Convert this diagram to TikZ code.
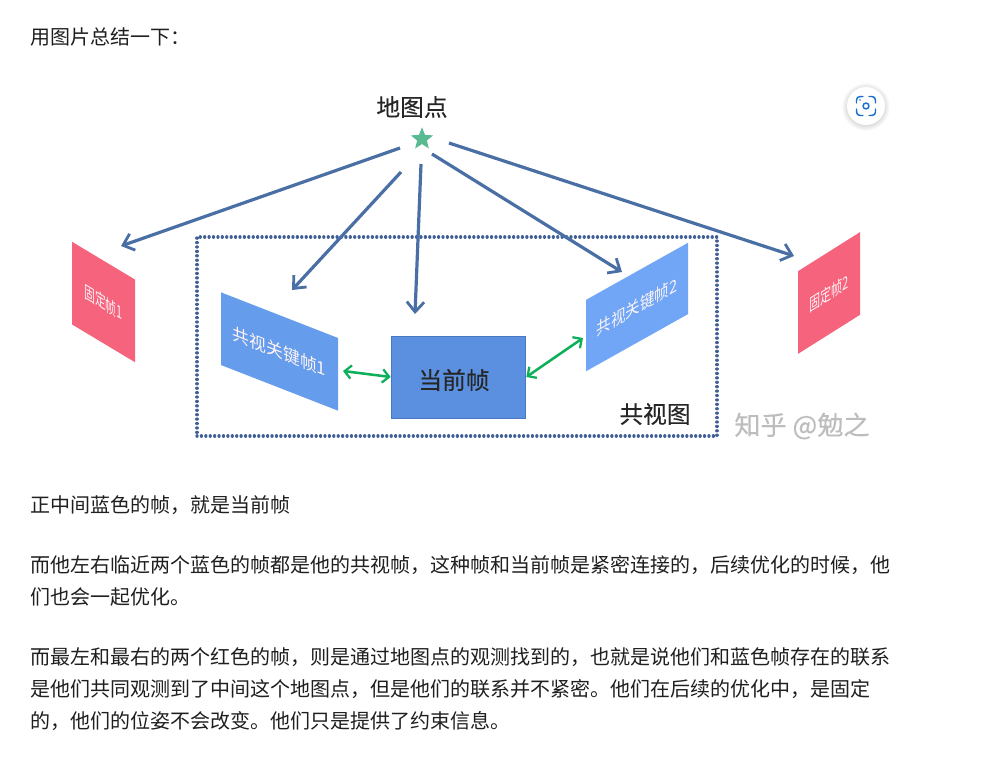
\documentclass[tikz,border=0pt]{standalone}
\usepackage{fontspec}
\setmainfont{Noto Sans CJK SC}
\newfontfamily\heavycjk[FakeBold=0.25]{Noto Sans CJK SC}
\usetikzlibrary{arrows.meta,shapes.geometric,calc}
\definecolor{arrowblue}{HTML}{4A6FA5}
\definecolor{boxblue}{HTML}{3F5F95}
\definecolor{keygreen}{HTML}{0DB05A}
\definecolor{starfill}{HTML}{58BA90}
\definecolor{framered}{HTML}{F5637D}
\definecolor{frameblueA}{HTML}{659CEB}
\definecolor{frameblueB}{HTML}{70A6F5}
\definecolor{curblue}{HTML}{5B90E0}
\definecolor{curedge}{HTML}{4A78C0}
\definecolor{bodyink}{HTML}{1F1F1F}
\definecolor{iconblue}{HTML}{1A6FD0}
\tikzset{
  x=0.75pt,y=-0.75pt,
  bodyline/.style={anchor=west,inner sep=0pt,text=bodyink,font=\fontsize{15pt}{15pt}\selectfont},
  bigcap/.style={inner sep=0pt,text=black!85,font=\heavycjk\fontsize{17.8pt}{17.8pt}\selectfont},
  obsarrow/.style={draw=arrowblue,line width=2.4pt,-{Straight Barb[length=7.5pt,width=13pt,line width=2.1pt]}},
  covis/.style={draw=keygreen,line width=1.9pt,{Straight Barb[length=5pt,width=10pt,line width=1.7pt]}-{Straight Barb[length=5pt,width=10pt,line width=1.7pt]}},
  framebox/.style={rectangle,inner sep=0pt,text=white!92!framered,font=\fontsize{13pt}{13pt}\selectfont},
}
\begin{document}
\begin{tikzpicture}
\useasboundingbox (0,0) rectangle (1004,761);
\fill[white] (0,0) rectangle (1004,761);
% body text
\node[bodyline] (t1) at (30,37) {用图片总结一下：};
\node[bodyline] (t2) at (30,505) {正中间蓝色的帧，就是当前帧};
\node[bodyline] (t3) at (30,565) {而他左右临近两个蓝色的帧都是他的共视帧，这种帧和当前帧是紧密连接的，后续优化的时候，他};
\node[bodyline] (t4) at (30,597) {们也会一起优化。};
\node[bodyline] (t5) at (30,657) {而最左和最右的两个红色的帧，则是通过地图点的观测找到的，也就是说他们和蓝色帧存在的联系};
\node[bodyline] (t6) at (30,689) {是他们共同观测到了中间这个地图点，但是他们的联系并不紧密。他们在后续的优化中，是固定};
\node[bodyline] (t7) at (30,721) {的，他们的位姿不会改变。他们只是提供了约束信息。};
% dotted covisibility box
\node[draw=boxblue,line width=2.5pt,line cap=round,dash pattern=on 0.01pt off 3.3pt,minimum width=390pt,minimum height=149.25pt,inner sep=0pt] (covisbox) at (457,336.5) {};
% frames
\node[framebox,fill=framered,minimum width=47.25pt,minimum height=62pt,yslant=-0.6] (red1) at (103.5,302) {\scalebox{0.62}[1]{固定帧1}};
\node[framebox,fill=framered,minimum width=46.5pt,minimum height=62pt,yslant=0.63] (red2) at (829,293) {\scalebox{0.64}[1]{固定帧2}};
\node[framebox,fill=frameblueA,minimum width=87.75pt,minimum height=54.5pt,yslant=-0.39] (blue1) at (279.5,351.5) {\scalebox{0.97}[1]{共视关键帧1}};
\node[framebox,fill=frameblueB,minimum width=76.5pt,minimum height=53.5pt,yslant=0.56] (blue2) at (637,307) {\scalebox{0.84}[1]{共视关键帧2}};
\node[rectangle,draw=curedge,line width=0.7pt,fill=curblue,minimum width=101pt,minimum height=61.5pt,inner sep=0pt] (cur) at (458.5,377) {};
% labels
\node[bigcap] (curlabel) at (454,380) {当前帧};
\node[bigcap] (mplabel) at (412,107) {地图点};
\node[star,star points=5,star point ratio=2.3,fill=starfill,minimum size=17.5pt,inner sep=0pt] (mp) at (422,139) {};
\node[bigcap] (cvlabel) at (655,414) {共视图};
\node[inner sep=0pt,text=black!26,font=\heavycjk\fontsize{19.6pt}{19.6pt}\selectfont] (wm) at (802,426) {知乎 @勉之};
% observation arrows
\coordinate (s1) at (400,148); \coordinate (e1) at (121,246);
\coordinate (s2) at (401,172); \coordinate (e2) at (292,290);
\coordinate (s3) at (421,164); \coordinate (e3) at (415,314);
\coordinate (s4) at (432,154); \coordinate (e4) at (622,272);
\coordinate (s5) at (449,143); \coordinate (e5) at (794,256);
\draw[obsarrow] (s1) -- (e1);
\draw[obsarrow] (s2) -- (e2);
\draw[obsarrow] (s3) -- (e3);
\draw[obsarrow] (s4) -- (e4);
\draw[obsarrow] (s5) -- (e5);
% covisibility links
\coordinate (g1) at (343,371);
\coordinate (g2) at (583,338);
\draw[covis] (g1) -- (cur.west);
\draw[covis] (cur.east) -- (g2);
% scan button with soft shadow
\foreach \r in {24,23.5,...,19}{\fill[black,opacity=0.012] (866,107) circle[radius=\r*0.75pt];}
\node[circle,fill=white,minimum size=28.5pt,inner sep=0pt] (scan) at (866,106) {};
\begin{scope}[draw=iconblue,line width=1.1pt,line cap=round]
\draw ($(scan)+(-9.5,-3)$) -- ($(scan)+(-9.5,-6)$) arc[start angle=180,end angle=90,radius=2.6pt] -- ($(scan)+(-3,-9.5)$);
\draw ($(scan)+(3,-9.5)$) -- ($(scan)+(6,-9.5)$) arc[start angle=90,end angle=0,radius=2.6pt] -- ($(scan)+(9.5,-3)$);
\draw ($(scan)+(9.5,3)$) -- ($(scan)+(9.5,6)$) arc[start angle=0,end angle=-90,radius=2.6pt] -- ($(scan)+(3,9.5)$);
\draw ($(scan)+(-3,9.5)$) -- ($(scan)+(-6,9.5)$) arc[start angle=270,end angle=180,radius=2.6pt] -- ($(scan)+(-9.5,3)$);
\draw (scan) circle[radius=2.2pt];
\fill[iconblue] ($(scan)+(-6,-6)$) circle[radius=0.7pt];
\end{scope}
\end{tikzpicture}
\end{document}
